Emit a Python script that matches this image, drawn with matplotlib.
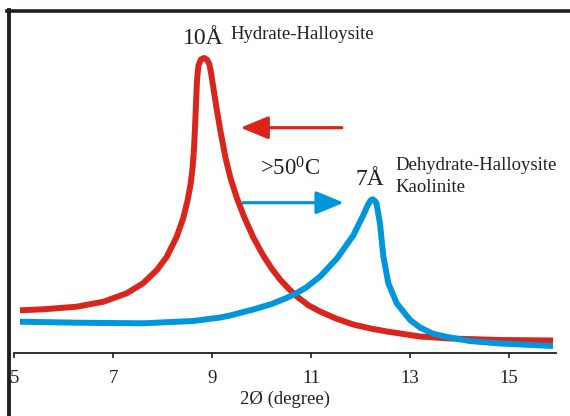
import matplotlib
matplotlib.use('Agg')
import matplotlib.pyplot as plt
from matplotlib.lines import Line2D

# valores (2theta en grados, intensidad arbitraria)
red_x = [5.11, 5.58, 6.26, 6.80, 7.27, 7.60, 7.88, 8.08, 8.28, 8.41, 8.50, 8.56, 8.60, 8.63, 8.66,
         8.69, 8.72, 8.77, 8.83, 8.89, 8.94, 8.98, 9.03, 9.09, 9.17, 9.27, 9.37, 9.50, 9.64, 9.83,
         10.03, 10.2, 10.37, 10.55, 10.71, 10.95, 11.18, 11.5, 11.85, 12.2, 12.53, 13.2, 13.81,
         14.82, 15.89]
red_y = [42.2, 43.2, 45.8, 50.8, 59.2, 69.2, 82.5, 95.8, 115.8, 134, 152, 168, 184, 204, 236,
         272, 287, 293, 294.5, 293, 288.5, 278, 262, 243, 220, 194, 174, 154, 136, 115,
         97, 84, 73, 63.5, 56, 47, 41, 34, 28, 24, 21, 16, 14,
         12.5, 12]

blue_x = [5.11, 6.26, 7.60, 8.62, 9.16, 9.36, 9.83, 10.2, 10.5, 10.67, 10.9, 11.18, 11.52, 11.85,
          12.05, 12.15, 12.20, 12.24, 12.28, 12.32, 12.39, 12.46, 12.56, 12.73, 13.0, 13.2, 13.45,
          13.75, 14.21, 14.82, 15.89]
blue_y = [30.8, 29.8, 29.2, 31.5, 35, 37, 43, 48.5, 54.5, 58.5, 65, 76, 94, 117,
          137, 148, 152, 153.2, 152, 149.2, 129.2, 95.8, 69.2, 49.2, 32.5, 25, 19,
          15.5, 11.5, 9, 6.5]

ticks = [5, 7, 9, 11, 13, 15]

rojo = '#da251d'
azul = '#0096db'
negro = '#231f20'

plt.rcParams['font.family'] = ['Liberation Serif', 'DejaVu Serif']
plt.rcParams['mathtext.default'] = 'regular'

W, H = 570, 416
fig = plt.figure(figsize=(W / 100, H / 100), dpi=100)
ax = fig.add_axes([14.5 / W, (H - 352.5) / H, (556 - 14.5) / W, (352.5 - 10) / H])
ax.set_xlim(5, 5 + (556 - 14.5) / 49.45)
ax.set_ylim(0, 342.5)

ax.plot(red_x, red_y, color=rojo, lw=4.3, solid_joinstyle='round', solid_capstyle='butt')
ax.plot(blue_x, blue_y, color=azul, lw=4.3, solid_joinstyle='round', solid_capstyle='butt')

for s in ['top', 'right', 'left']:
    ax.spines[s].set_visible(False)
ax.spines['bottom'].set_color(negro)
ax.spines['bottom'].set_linewidth(1.3)
ax.set_yticks([])
ax.set_xticks(ticks)
ax.tick_params(axis='x', direction='out', length=3.5, width=1.2, color=negro,
               labelsize=13.5, labelcolor=negro, pad=9)
ax.set_xlabel('2Ø (degree)', fontsize=13.5, color=negro, labelpad=3)

# textos
ax.text(8.41, 308.5, '10Å', fontsize=17, color=negro, va='baseline')
ax.text(9.36, 313.5, 'Hydrate-Halloysite', fontsize=13.5, color=negro, va='baseline')
ax.text(11.89, 167.5, '7Å', fontsize=17, color=negro, va='baseline')
ax.text(12.71, 182, 'Dehydrate-Halloysite', fontsize=13.5, color=negro, va='baseline')
ax.text(12.71, 161, 'Kaolinite', fontsize=13.5, color=negro, va='baseline')
ax.text(9.97, 176.5, '>50$^{0}$C', fontsize=16.5, color=negro, va='baseline')

# flechas
ax.annotate('', xy=(9.57, 224.8), xytext=(11.62, 224.8),
            arrowprops=dict(arrowstyle='-|>,head_length=0.85,head_width=0.35', mutation_scale=20,
                            color=rojo, lw=2.3, shrinkA=0, shrinkB=0))
ax.annotate('', xy=(11.66, 149.8), xytext=(9.62, 149.8),
            arrowprops=dict(arrowstyle='-|>,head_length=0.85,head_width=0.35', mutation_scale=20,
                            color=azul, lw=2.3, shrinkA=0, shrinkB=0))

# marco
fig.add_artist(Line2D([7 / W, 1], [(H - 11) / H, (H - 11) / H], color=negro, lw=2.6))
fig.add_artist(Line2D([8.7 / W, 8.7 / W], [0, (H - 9.5) / H], color=negro, lw=2.8))

fig.savefig('out.png', dpi=100)
